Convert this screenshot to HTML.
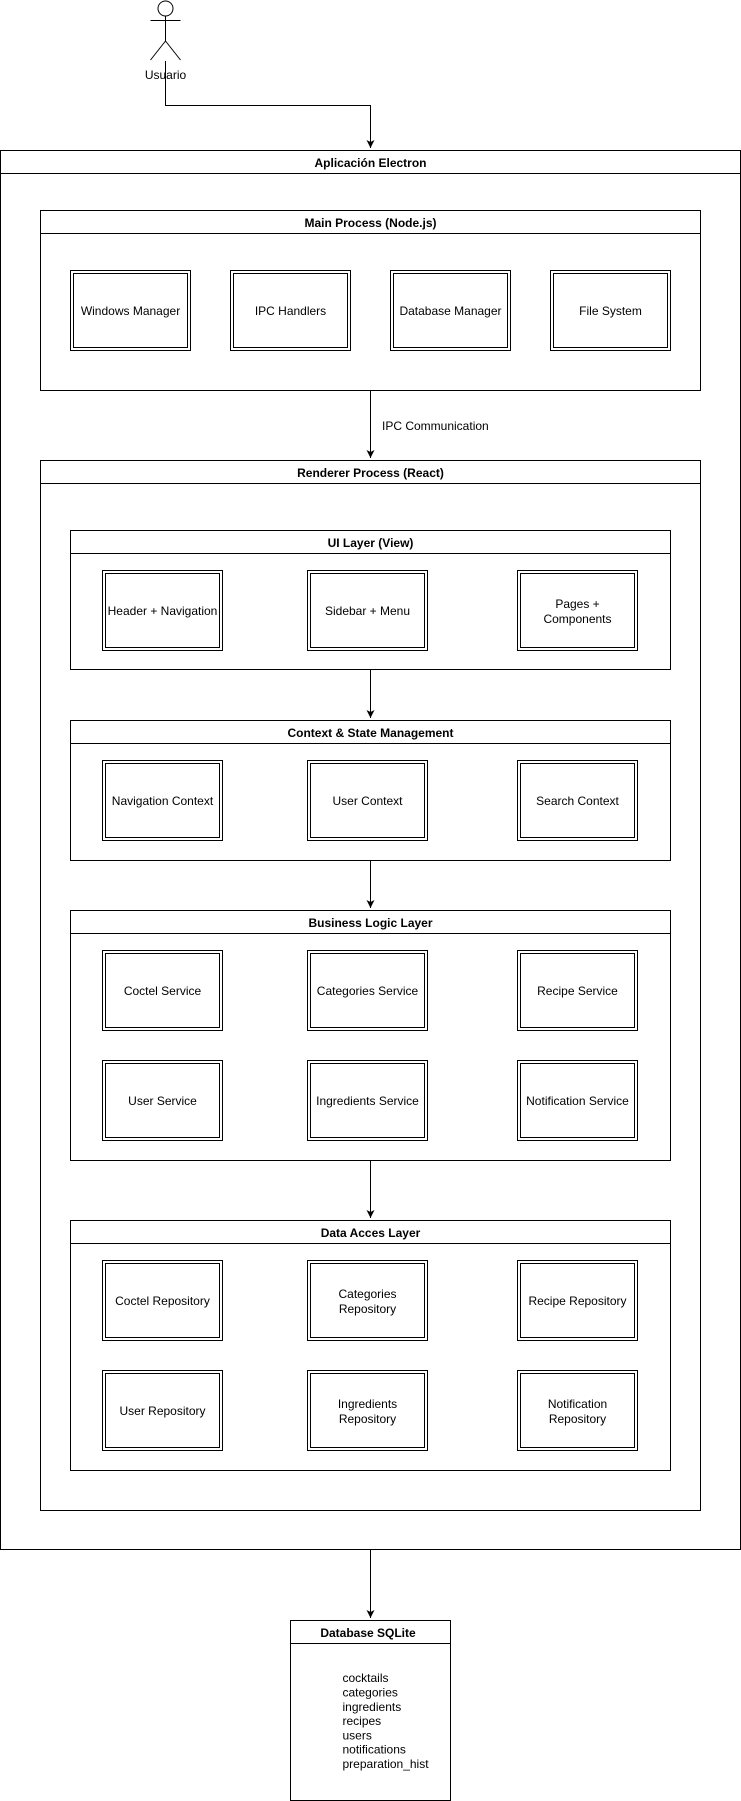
<!DOCTYPE html>
<html><head><meta charset="utf-8"><style>
html,body{margin:0;padding:0;background:#fff;}
svg{display:block;}
text{font-family:"Liberation Sans",Arial,sans-serif;font-size:12px;fill:#000;}
.b{font-weight:bold;}
</style></head><body>
<svg width="741" height="1801" viewBox="0 0 741 1801" xmlns="http://www.w3.org/2000/svg">
<defs><marker id="a" markerWidth="10" markerHeight="10" refX="8" refY="4" orient="auto" markerUnits="userSpaceOnUse"><path d="M0,0 L8,4 L0,8 L2,4 Z" fill="#000"/></marker>
<g id="row" fill="none" stroke="#000" stroke-width="1"><rect x="102.5" y="0.5" width="120" height="80"/><rect x="105.5" y="3.5" width="114" height="74"/>
<rect x="307.5" y="0.5" width="120" height="80"/><rect x="310.5" y="3.5" width="114" height="74"/>
<rect x="517.5" y="0.5" width="120" height="80"/><rect x="520.5" y="3.5" width="114" height="74"/></g>
</defs>
<g fill="none" stroke="#000" stroke-width="1">
<circle cx="165.5" cy="8.5" r="7.5"/>
<line x1="165.5" y1="16" x2="165.5" y2="41"/>
<line x1="150.5" y1="20.5" x2="180.5" y2="20.5"/>
<line x1="165.5" y1="41" x2="150.5" y2="60"/>
<line x1="165.5" y1="41" x2="180.5" y2="60"/>
<polyline points="165.5,61 165.5,105.5 370.5,105.5 370.5,148" marker-end="url(#a)"/>
<rect x="0.5" y="150.5" width="740" height="1399"/>
<line x1="0.5" y1="173.5" x2="740.5" y2="173.5"/>
<rect x="40.5" y="210.5" width="660" height="180"/>
<line x1="40.5" y1="233.5" x2="700.5" y2="233.5"/>
<line x1="370.5" y1="390.5" x2="370.5" y2="458" marker-end="url(#a)"/>
<rect x="40.5" y="460.5" width="660" height="1050"/>
<line x1="40.5" y1="483.5" x2="700.5" y2="483.5"/>
<rect x="70.5" y="530.5" width="600" height="139"/><line x1="70.5" y1="553.5" x2="670.5" y2="553.5"/>
<line x1="370.5" y1="670" x2="370.5" y2="718" marker-end="url(#a)"/>
<rect x="70.5" y="720.5" width="600" height="140"/><line x1="70.5" y1="743.5" x2="670.5" y2="743.5"/>
<line x1="370.5" y1="861" x2="370.5" y2="908" marker-end="url(#a)"/>
<rect x="70.5" y="910.5" width="600" height="250"/><line x1="70.5" y1="933.5" x2="670.5" y2="933.5"/>
<line x1="370.5" y1="1161" x2="370.5" y2="1218" marker-end="url(#a)"/>
<rect x="70.5" y="1220.5" width="600" height="250"/><line x1="70.5" y1="1243.5" x2="670.5" y2="1243.5"/>
<line x1="370.5" y1="1550" x2="370.5" y2="1618" marker-end="url(#a)"/>
<rect x="290.5" y="1620.5" width="160" height="180"/>
<line x1="290.5" y1="1643.5" x2="450.5" y2="1643.5"/>
<rect x="70.5" y="270.5" width="120" height="80"/><rect x="73.5" y="273.5" width="114" height="74"/>
<rect x="230.5" y="270.5" width="120" height="80"/><rect x="233.5" y="273.5" width="114" height="74"/>
<rect x="390.5" y="270.5" width="120" height="80"/><rect x="393.5" y="273.5" width="114" height="74"/>
<rect x="550.5" y="270.5" width="120" height="80"/><rect x="553.5" y="273.5" width="114" height="74"/>
</g>
<use href="#row" transform="translate(0,570)"/><use href="#row" transform="translate(0,760)"/><use href="#row" transform="translate(0,950)"/><use href="#row" transform="translate(0,1060)"/><use href="#row" transform="translate(0,1260)"/><use href="#row" transform="translate(0,1370)"/>
<g text-anchor="middle">
<text x="165.5" y="79">Usuario</text>
<text class="b" x="370.5" y="167">Aplicación Electron</text>
<text class="b" x="370.5" y="227">Main Process (Node.js)</text>
<text x="130.5" y="315">Windows Manager</text>
<text x="290.5" y="315">IPC Handlers</text>
<text x="450.5" y="315">Database Manager</text>
<text x="610.5" y="315">File System</text>
<text class="b" x="370.5" y="477">Renderer Process (React)</text>
<text class="b" x="370.5" y="547">UI Layer (View)</text>
<text x="162.5" y="615">Header + Navigation</text>
<text x="367.5" y="615">Sidebar + Menu</text>
<text x="577.5" y="608">Pages +</text><text x="577.5" y="623">Components</text>
<text class="b" x="370.5" y="737">Context &amp; State Management</text>
<text x="162.5" y="805">Navigation Context</text>
<text x="367.5" y="805">User Context</text>
<text x="577.5" y="805">Search Context</text>
<text class="b" x="370.5" y="927">Business Logic Layer</text>
<text x="162.5" y="995">Coctel Service</text>
<text x="367.5" y="995">Categories Service</text>
<text x="577.5" y="995">Recipe Service</text>
<text x="162.5" y="1105">User Service</text>
<text x="367.5" y="1105">Ingredients Service</text>
<text x="577.5" y="1105">Notification Service</text>
<text class="b" x="370.5" y="1237">Data Acces Layer</text>
<text x="162.5" y="1305">Coctel Repository</text>
<text x="367.5" y="1298">Categories</text><text x="367.5" y="1313">Repository</text>
<text x="577.5" y="1305">Recipe Repository</text>
<text x="162.5" y="1415">User Repository</text>
<text x="367.5" y="1408">Ingredients</text><text x="367.5" y="1423">Repository</text>
<text x="577.5" y="1408">Notification</text><text x="577.5" y="1423">Repository</text>
<text class="b" x="368" y="1637">Database SQLite</text>
</g>
<text x="382" y="430">IPC Communication</text>
<text x="342.5" y="1682">cocktails</text>
<text x="342.5" y="1696.5">categories</text>
<text x="342.5" y="1711">ingredients</text>
<text x="342.5" y="1725">recipes</text>
<text x="342.5" y="1739.5">users</text>
<text x="342.5" y="1753.5">notifications</text>
<text x="342.5" y="1768">preparation_hist</text>
</svg>
</body></html>
